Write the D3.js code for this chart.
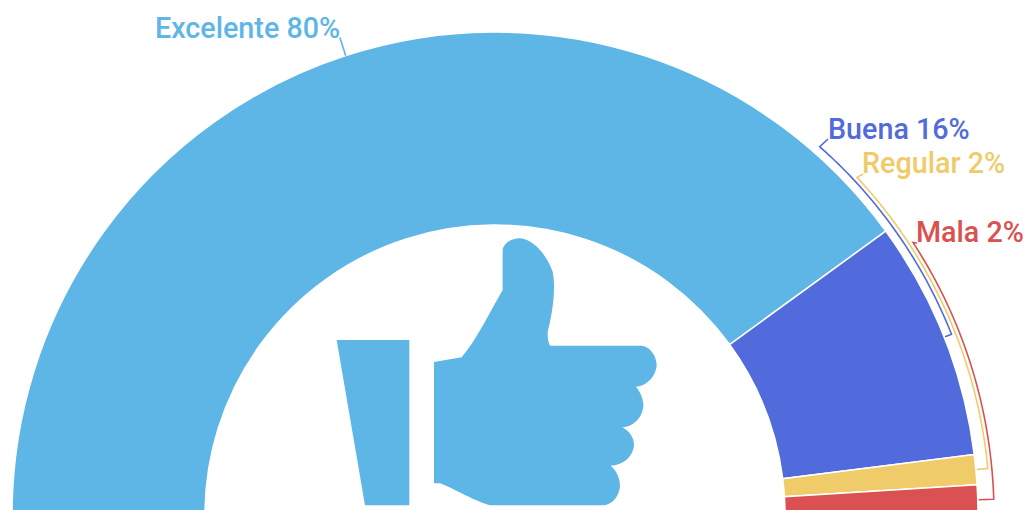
<!DOCTYPE html>
<html>
<head>
<meta charset="utf-8">
<script src="https://cdn.jsdelivr.net/npm/d3@7/dist/d3.min.js"></script>
<style>
html, body { margin: 0; padding: 0; background: #fff; overflow: hidden; }
svg { display: block; }
text { font-family: Roboto, sans-serif; font-weight: 500; font-size: 28.7px; }
</style>
</head>
<body>
<svg id="chart" width="1026" height="510"></svg>
<script>
// Satisfaction survey results, drawn as a half doughnut.
const categories = ["Excelente", "Buena", "Regular", "Mala"];
const shares = [80, 16, 2, 2];
const colours = ["#5eb6e6", "#516bdc", "#f0cb69", "#db5050"];

const width = 1026, height = 510;
const cx = 495, cy = 515, outer = 483, inner = 290;

const svg = d3.select("#chart");
const root = svg.append("g").attr("transform", `translate(${cx},${cy})`);

const pie = d3.pie().sort(null).startAngle(-Math.PI / 2).endAngle(Math.PI / 2);
const arc = d3.arc().innerRadius(inner).outerRadius(outer);
const slices = pie(shares);

root.selectAll("path.slice")
  .data(slices)
  .join("path")
  .attr("class", "slice")
  .attr("d", arc)
  .attr("fill", (d, i) => colours[i])
  .attr("stroke", "#fff")
  .attr("stroke-width", 1.5);

// Each label sits at the end of a leader that runs along the rim to its slice.
const leaderLayout = [
  { radius: 502, from: null, labelX: 155, labelY: 38, anchorX: 340, anchorY: 38 },
  { radius: 491, from: 41.4, labelX: 828, labelY: 139, anchorX: 828, anchorY: 139 },
  { radius: 495, from: 47, labelX: 862, labelY: 173, anchorX: 863, anchorY: 174 },
  { radius: 499, from: 56.9, labelX: 916, labelY: 242, anchorX: 917, anchorY: 243 }
];

const polar = (deg, r) => {
  const a = deg * Math.PI / 180;
  return [r * Math.sin(a), -r * Math.cos(a)];
};

const line = d3.line();
slices.forEach((s, i) => {
  const mid = (s.startAngle + s.endAngle) / 2 * 180 / Math.PI;
  const spec = leaderLayout[i];
  let pts;
  if (spec.from === null) {
    pts = [polar(mid, outer), polar(mid, spec.radius)];
  } else {
    const steps = d3.range(spec.from, mid, 0.5).concat([mid]);
    pts = [[spec.anchorX - cx, spec.anchorY - cy]]
      .concat(steps.map(a => polar(a, spec.radius)))
      .concat([polar(mid, outer + 1)]);
  }
  root.append("path")
    .attr("d", line(pts))
    .attr("fill", "none")
    .attr("stroke", colours[i])
    .attr("stroke-width", 1.6);
});

svg.selectAll("text.label")
  .data(categories)
  .join("text")
  .attr("class", "label")
  .attr("x", (d, i) => leaderLayout[i].labelX)
  .attr("y", (d, i) => leaderLayout[i].labelY)
  .attr("fill", (d, i) => colours[i])
  .text((d, i) => `${d} ${shares[i]}%`);

// Thumbs-up emblem in the middle of the ring.
const emblem = svg.append("g")
  .attr("transform", "translate(320,230) scale(0.3333)")
  .attr("fill", colours[0]);
emblem.append("path").attr("d", "M50,330 L268,330 L268,826 L135,826 Z");
emblem.append("path").attr("d",
  "M342,396 L425,382 C470,330 510,245 548,180 L548,60 " +
  "C550,40 575,25 600,25 C645,28 685,85 698,125 C708,175 698,240 688,285 " +
  "C680,310 682,330 690,347 L965,347 C992,350 1010,380 1010,405 " +
  "C1008,440 980,468 948,470 C965,490 972,515 970,532 C965,565 940,590 908,592 " +
  "C930,605 943,625 942,648 C938,682 908,706 872,707 C890,722 900,745 900,768 " +
  "C898,800 875,826 848,826 L510,826 C470,816 400,775 360,760 L342,760 Z");
</script>
</body>
</html>
